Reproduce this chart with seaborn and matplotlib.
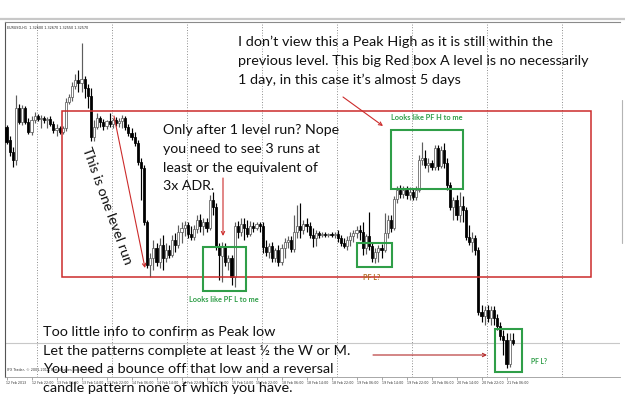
import numpy as np
import pandas as pd
import matplotlib
matplotlib.use("Agg")
import matplotlib.pyplot as plt
import seaborn as sns
from matplotlib.patches import Rectangle
from matplotlib.lines import Line2D

# ---------------- data (EURUSD H1, 163 bars) ----------------
opens = [1.3473, 1.3460, 1.3448, 1.3440, 1.3492, 1.3478, 1.3492, 1.3478, 1.3468, 1.3480,
         1.3484, 1.3481, 1.3482, 1.3480, 1.3481, 1.3476, 1.3470, 1.3472, 1.3468, 1.3472,
         1.3498, 1.3503, 1.3514, 1.3520, 1.3517, 1.3521, 1.3512, 1.3504, 1.3463, 1.3473,
         1.3482, 1.3478, 1.3474, 1.3479, 1.3476, 1.3480, 1.3477, 1.3479, 1.3482, 1.3473,
         1.3467, 1.3463, 1.3457, 1.3438, 1.3432, 1.3378, 1.3335, 1.3342, 1.3352, 1.3338,
         1.3355, 1.3342, 1.3350, 1.3345, 1.3360, 1.3355, 1.3368, 1.3372, 1.3375, 1.3366,
         1.3363, 1.3371, 1.3380, 1.3374, 1.3378, 1.3372, 1.3400, 1.3393, 1.3353, 1.3344,
         1.3354, 1.3338, 1.3342, 1.3323, 1.3374, 1.3368, 1.3376, 1.3372, 1.3366, 1.3374,
         1.3372, 1.3376, 1.3374, 1.3353, 1.3348, 1.3354, 1.3342, 1.3350, 1.3338, 1.3352,
         1.3358, 1.3360, 1.3351, 1.3368, 1.3374, 1.3370, 1.3376, 1.3374, 1.3365, 1.3362,
         1.3367, 1.3365, 1.3366, 1.3365, 1.3366, 1.3365, 1.3366, 1.3362, 1.3357, 1.3354,
         1.3360, 1.3364, 1.3367, 1.3370, 1.3368, 1.3352, 1.3364, 1.3354, 1.3342, 1.3348,
         1.3352, 1.3350, 1.3367, 1.3380, 1.3372, 1.3401, 1.3410, 1.3406, 1.3410, 1.3405,
         1.3408, 1.3403, 1.3410, 1.3440, 1.3442, 1.3435, 1.3437, 1.3433, 1.3452, 1.3434,
         1.3450, 1.3437, 1.3415, 1.3393, 1.3400, 1.3385, 1.3394, 1.3390, 1.3363, 1.3358,
         1.3362, 1.3350, 1.3288, 1.3284, 1.3290, 1.3282, 1.3290, 1.3282, 1.3274, 1.3264,
         1.3260, 1.3236, 1.3260]
highs = [1.3475, 1.3464, 1.3453, 1.3505, 1.3496, 1.3495, 1.3494, 1.3482, 1.3484, 1.3488,
         1.3486, 1.3485, 1.3484, 1.3483, 1.3484, 1.3479, 1.3476, 1.3474, 1.3474, 1.3502,
         1.3506, 1.3518, 1.3526, 1.3530, 1.3557, 1.3524, 1.3516, 1.3512, 1.3480, 1.3487,
         1.3484, 1.3481, 1.3480, 1.3487, 1.3482, 1.3483, 1.3482, 1.3485, 1.3484, 1.3476,
         1.3472, 1.3468, 1.3460, 1.3442, 1.3435, 1.3380, 1.3347, 1.3360, 1.3357, 1.3362,
         1.3365, 1.3357, 1.3355, 1.3365, 1.3367, 1.3375, 1.3378, 1.3379, 1.3378, 1.3374,
         1.3375, 1.3385, 1.3386, 1.3382, 1.3382, 1.3405, 1.3408, 1.3397, 1.3357, 1.3358,
         1.3357, 1.3345, 1.3345, 1.3378, 1.3379, 1.3382, 1.3382, 1.3380, 1.3379, 1.3378,
         1.3378, 1.3378, 1.3378, 1.3360, 1.3357, 1.3358, 1.3352, 1.3355, 1.3356, 1.3362,
         1.3364, 1.3364, 1.3385, 1.3395, 1.3397, 1.3380, 1.3382, 1.3378, 1.3372, 1.3370,
         1.3369, 1.3368, 1.3368, 1.3367, 1.3368, 1.3368, 1.3370, 1.3365, 1.3362, 1.3364,
         1.3368, 1.3370, 1.3374, 1.3375, 1.3378, 1.3366, 1.3388, 1.3357, 1.3352, 1.3355,
         1.3356, 1.3387, 1.3385, 1.3385, 1.3404, 1.3414, 1.3415, 1.3414, 1.3414, 1.3413,
         1.3412, 1.3414, 1.3445, 1.3458, 1.3450, 1.3442, 1.3440, 1.3455, 1.3455, 1.3454,
         1.3457, 1.3442, 1.3418, 1.3403, 1.3405, 1.3408, 1.3404, 1.3393, 1.3375, 1.3368,
         1.3365, 1.3353, 1.3295, 1.3294, 1.3295, 1.3294, 1.3294, 1.3286, 1.3278, 1.3270,
         1.3267, 1.3267, 1.3267]
lows = [1.3456, 1.3444, 1.3433, 1.3435, 1.3476, 1.3475, 1.3476, 1.3466, 1.3465, 1.3477,
        1.3479, 1.3472, 1.3477, 1.3472, 1.3474, 1.3467, 1.3464, 1.3466, 1.3466, 1.3469,
        1.3496, 1.3499, 1.3511, 1.3508, 1.3508, 1.3502, 1.3492, 1.3459, 1.3459, 1.3471,
        1.3473, 1.3470, 1.3471, 1.3473, 1.3472, 1.3474, 1.3473, 1.3472, 1.3470, 1.3464,
        1.3460, 1.3454, 1.3435, 1.3400, 1.3375, 1.3332, 1.3323, 1.3330, 1.3334, 1.3332,
        1.3330, 1.3338, 1.3342, 1.3343, 1.3348, 1.3352, 1.3357, 1.3364, 1.3362, 1.3360,
        1.3360, 1.3367, 1.3368, 1.3365, 1.3368, 1.3370, 1.3385, 1.3350, 1.3320, 1.3318,
        1.3334, 1.3330, 1.3315, 1.3313, 1.3362, 1.3364, 1.3360, 1.3363, 1.3364, 1.3368,
        1.3370, 1.3368, 1.3347, 1.3344, 1.3342, 1.3338, 1.3338, 1.3334, 1.3335, 1.3342,
        1.3352, 1.3348, 1.3348, 1.3362, 1.3362, 1.3366, 1.3368, 1.3362, 1.3353, 1.3354,
        1.3362, 1.3363, 1.3363, 1.3363, 1.3363, 1.3362, 1.3358, 1.3354, 1.3352, 1.3350,
        1.3354, 1.3358, 1.3362, 1.3360, 1.3345, 1.3346, 1.3350, 1.3338, 1.3337, 1.3338,
        1.3342, 1.3348, 1.3362, 1.3368, 1.3370, 1.3397, 1.3402, 1.3402, 1.3401, 1.3400,
        1.3400, 1.3400, 1.3408, 1.3435, 1.3432, 1.3428, 1.3430, 1.3430, 1.3430, 1.3432,
        1.3432, 1.3410, 1.3390, 1.3380, 1.3380, 1.3378, 1.3378, 1.3360, 1.3355, 1.3348,
        1.3345, 1.3285, 1.3278, 1.3275, 1.3278, 1.3275, 1.3275, 1.3270, 1.3260, 1.3245,
        1.3232, 1.3233, 1.3255]
closes = [1.3458, 1.3448, 1.3440, 1.3492, 1.3478, 1.3492, 1.3478, 1.3468, 1.3480, 1.3484,
          1.3481, 1.3482, 1.3480, 1.3481, 1.3476, 1.3470, 1.3472, 1.3468, 1.3472, 1.3498,
          1.3503, 1.3514, 1.3520, 1.3517, 1.3521, 1.3512, 1.3504, 1.3463, 1.3473, 1.3482,
          1.3478, 1.3474, 1.3479, 1.3476, 1.3480, 1.3477, 1.3479, 1.3482, 1.3473, 1.3467,
          1.3463, 1.3457, 1.3438, 1.3432, 1.3378, 1.3335, 1.3342, 1.3352, 1.3338, 1.3355,
          1.3342, 1.3350, 1.3345, 1.3360, 1.3355, 1.3368, 1.3372, 1.3375, 1.3366, 1.3363,
          1.3371, 1.3380, 1.3374, 1.3378, 1.3372, 1.3400, 1.3393, 1.3353, 1.3345, 1.3354,
          1.3338, 1.3342, 1.3323, 1.3374, 1.3368, 1.3376, 1.3372, 1.3366, 1.3374, 1.3372,
          1.3376, 1.3374, 1.3353, 1.3348, 1.3354, 1.3342, 1.3350, 1.3338, 1.3352, 1.3358,
          1.3360, 1.3351, 1.3368, 1.3374, 1.3370, 1.3376, 1.3374, 1.3365, 1.3362, 1.3367,
          1.3365, 1.3366, 1.3365, 1.3366, 1.3365, 1.3366, 1.3362, 1.3357, 1.3354, 1.3360,
          1.3364, 1.3367, 1.3370, 1.3368, 1.3352, 1.3364, 1.3354, 1.3342, 1.3348, 1.3352,
          1.3350, 1.3367, 1.3380, 1.3372, 1.3401, 1.3410, 1.3406, 1.3410, 1.3405, 1.3408,
          1.3403, 1.3410, 1.3440, 1.3442, 1.3435, 1.3437, 1.3433, 1.3452, 1.3434, 1.3450,
          1.3437, 1.3415, 1.3393, 1.3400, 1.3385, 1.3394, 1.3390, 1.3363, 1.3358, 1.3362,
          1.3350, 1.3288, 1.3284, 1.3290, 1.3282, 1.3290, 1.3282, 1.3274, 1.3264, 1.3260,
          1.3236, 1.3260, 1.3257]
tick_bars = list(range(0, 161, 8))
tick_labels = ["12 Feb 2013", "12 Feb 22:00", "13 Feb 06:00", "13 Feb 14:00", "13 Feb 22:00",
               "14 Feb 06:00", "14 Feb 14:00", "14 Feb 22:00", "15 Feb 06:00", "15 Feb 14:00",
               "15 Feb 22:00", "18 Feb 06:00", "18 Feb 14:00", "18 Feb 22:00", "19 Feb 06:00",
               "19 Feb 14:00", "19 Feb 22:00", "20 Feb 06:00", "20 Feb 14:00", "20 Feb 22:00",
               "21 Feb 06:00"]
day_bars = [10, 34, 58, 82, 106, 130, 154, 178]

# ---------------- styling ----------------
sns.set_theme(style="white")
plt.rcParams['font.family'] = ['Lato', 'DejaVu Sans']

W, H = 625, 401
fig = plt.figure(figsize=(W / 100, H / 100), dpi=100)
fig.patch.set_facecolor('white')

X0, X1, Y0, Y1 = 5, 620, 22, 377
ax = fig.add_axes([X0 / W, 1 - Y1 / H, (X1 - X0) / W, (Y1 - Y0) / H])
ax.set_facecolor('white')

def bx(x):      # screen pixel -> bar index
    return (x - 6.5) / 3.125

def py(y):      # screen pixel -> price
    return 1.36 - y / 1e4

def fx(x):
    return x / W

def fy(y):
    return 1 - y / H

df = pd.DataFrame({'o': opens, 'h': highs, 'l': lows, 'c': closes})
df['i'] = np.arange(len(df))
df['bull'] = df['c'] >= df['o']

# day separators
for b in day_bars:
    ax.axvline(b - 0.3, color='#6a6a6a', lw=0.6, ls=(0, (1, 2.2)), zorder=0)

# bid line
ax.axhline(closes[-1], color='#c8c8c8', lw=0.8, zorder=0)

# candles
wick_col = np.where(df['bull'], '#5e5e5e', '#000000')
ax.vlines(df['i'], df['l'], df['h'], colors=wick_col, lw=0.85, zorder=2)
bottom = np.minimum(df['o'], df['c'])
height = np.maximum(np.abs(df['c'] - df['o']), 0.00005)
ax.bar(df['i'], height, bottom=bottom, width=0.7,
       color=np.where(df['bull'], 'white', 'black'),
       edgecolor=np.where(df['bull'], '#5e5e5e', 'black'), linewidth=0.55, zorder=3)

ax.set_xlim(bx(X0), bx(X1))
ax.set_ylim(py(Y1), py(Y0))
ax.set_yticks([])
ax.set_xticks(tick_bars)
ax.set_xticklabels(tick_labels, fontsize=2.3, ha='left', color='#333333',
                   family=['DejaVu Sans'])
ax.tick_params(axis='x', length=2, width=0.4, color='#666666', pad=0.6, direction='out',
               bottom=True)
for s in ['left', 'top', 'bottom']:
    ax.spines[s].set_visible(True)
ax.spines['left'].set_color('#555555'); ax.spines['left'].set_linewidth(0.8)
ax.spines['top'].set_color('#8a8a8a'); ax.spines['top'].set_linewidth(0.8)
ax.spines['bottom'].set_color('#9a9a9a'); ax.spines['bottom'].set_linewidth(0.6)
ax.spines['right'].set_visible(False)

# window chrome
fig.add_artist(Line2D([0, 1], [fy(19), fy(19)], color='#c8c8c8', lw=1.6))
fig.add_artist(Line2D([fx(622), fx(622)], [fy(100), fy(243)], color='#b4b4b4', lw=0.8))

fig.text(fx(7), fy(28), "EURUSD,H1  1.32600 1.32670 1.32550 1.32570", fontsize=2.4,
         family=['DejaVu Sans'], va='center', ha='left', color='#222222')
fig.text(fx(7), fy(370), "IFX Trader, \u00a9 2001-2012, MetaQuotes Software Corp.", fontsize=2.4,
         family=['DejaVu Sans'], va='center', ha='left', color='#333333')

# ---------------- annotation boxes ----------------
red = '#cc2b2b'
green = '#2f9e48'

def box(x1, y1, x2, y2, color, lw):
    r = Rectangle((bx(x1), py(y2)), bx(x2) - bx(x1), py(y1) - py(y2), fill=False,
                  edgecolor=color, lw=lw, zorder=5, clip_on=False)
    ax.add_patch(r)

box(62, 111, 591, 277, red, 1.1)
box(203, 247, 246, 291, green, 1.5)
box(357, 243, 392, 267, green, 1.5)
box(391, 130, 463, 189, green, 1.5)
box(495, 329, 522, 372, green, 1.5)

# ---------------- arrows ----------------
def arrow(x1, y1, x2, y2, color=red):
    ax.annotate('', xy=(fx(x2), fy(y2)), xytext=(fx(x1), fy(y1)),
                xycoords='figure fraction', textcoords='figure fraction',
                arrowprops=dict(arrowstyle='->', color=color, lw=0.8,
                                shrinkA=0, shrinkB=0, mutation_scale=6))

arrow(114, 116, 145, 268)
arrow(223, 178, 223, 236)
arrow(343, 97, 383, 126)
arrow(373, 355, 487, 355, '#b32a2a')

# ---------------- texts ----------------
renderer = fig.canvas.get_renderer()

def fit_block(lines, x, ys, target_w, **kw):
    ts = [fig.text(fx(x), fy(y), s, fontsize=10, ha='left', va='center', **kw)
          for s, y in zip(lines, ys)]
    w = max(t.get_window_extent(renderer).width for t in ts)
    fs = 10 * target_w / w
    for t in ts:
        t.set_fontsize(fs)
    return fs

fit_block(["I don\u2019t view this a Peak High as it is still within the",
           "previous level. This big Red box A level is no necessarily",
           "1 day, in this case it\u2019s almost 5 days"],
          238, [42, 61, 80], 351, color='#111111')

fit_block(["Only after 1 level run? Nope",
           "you need to see 3 runs at",
           "least or the equivalent of",
           "3x ADR."],
          163, [130, 149, 168, 186], 176, color='#111111')

fit_block(["Too little info to confirm as Peak low",
           "Let the patterns complete at least \u00bd the W or M.",
           "You need a bounce off that low and a reversal",
           "candle pattern none of which you have."],
          43, [332, 351, 369, 388], 306, color='#111111')

rt = fig.text(fx(107), fy(206), "This is one level run", fontsize=10, ha='center',
              va='center', color='#111111')
rw = rt.get_window_extent(renderer).width
rt.set_fontsize(10 * 124 / rw)
rt.set_rotation(-70)
rt.set_rotation_mode('anchor')

def fit_label(s, cx, cy, target_w, color):
    t = fig.text(fx(cx), fy(cy), s, fontsize=6, ha='center', va='center',
                 color=color, fontweight='bold')
    w = t.get_window_extent(renderer).width
    t.set_fontsize(6 * target_w / w)

fit_label("Looks like PF L to me", 224, 299, 70, green)
fit_label("Looks like PF H to me", 427, 118, 71, green)
fit_label("PF L?", 372, 277, 17, '#b06a22')
fit_label("PF L?", 539, 361, 16, green)

fig.savefig('out.png', dpi=100, facecolor='white')
